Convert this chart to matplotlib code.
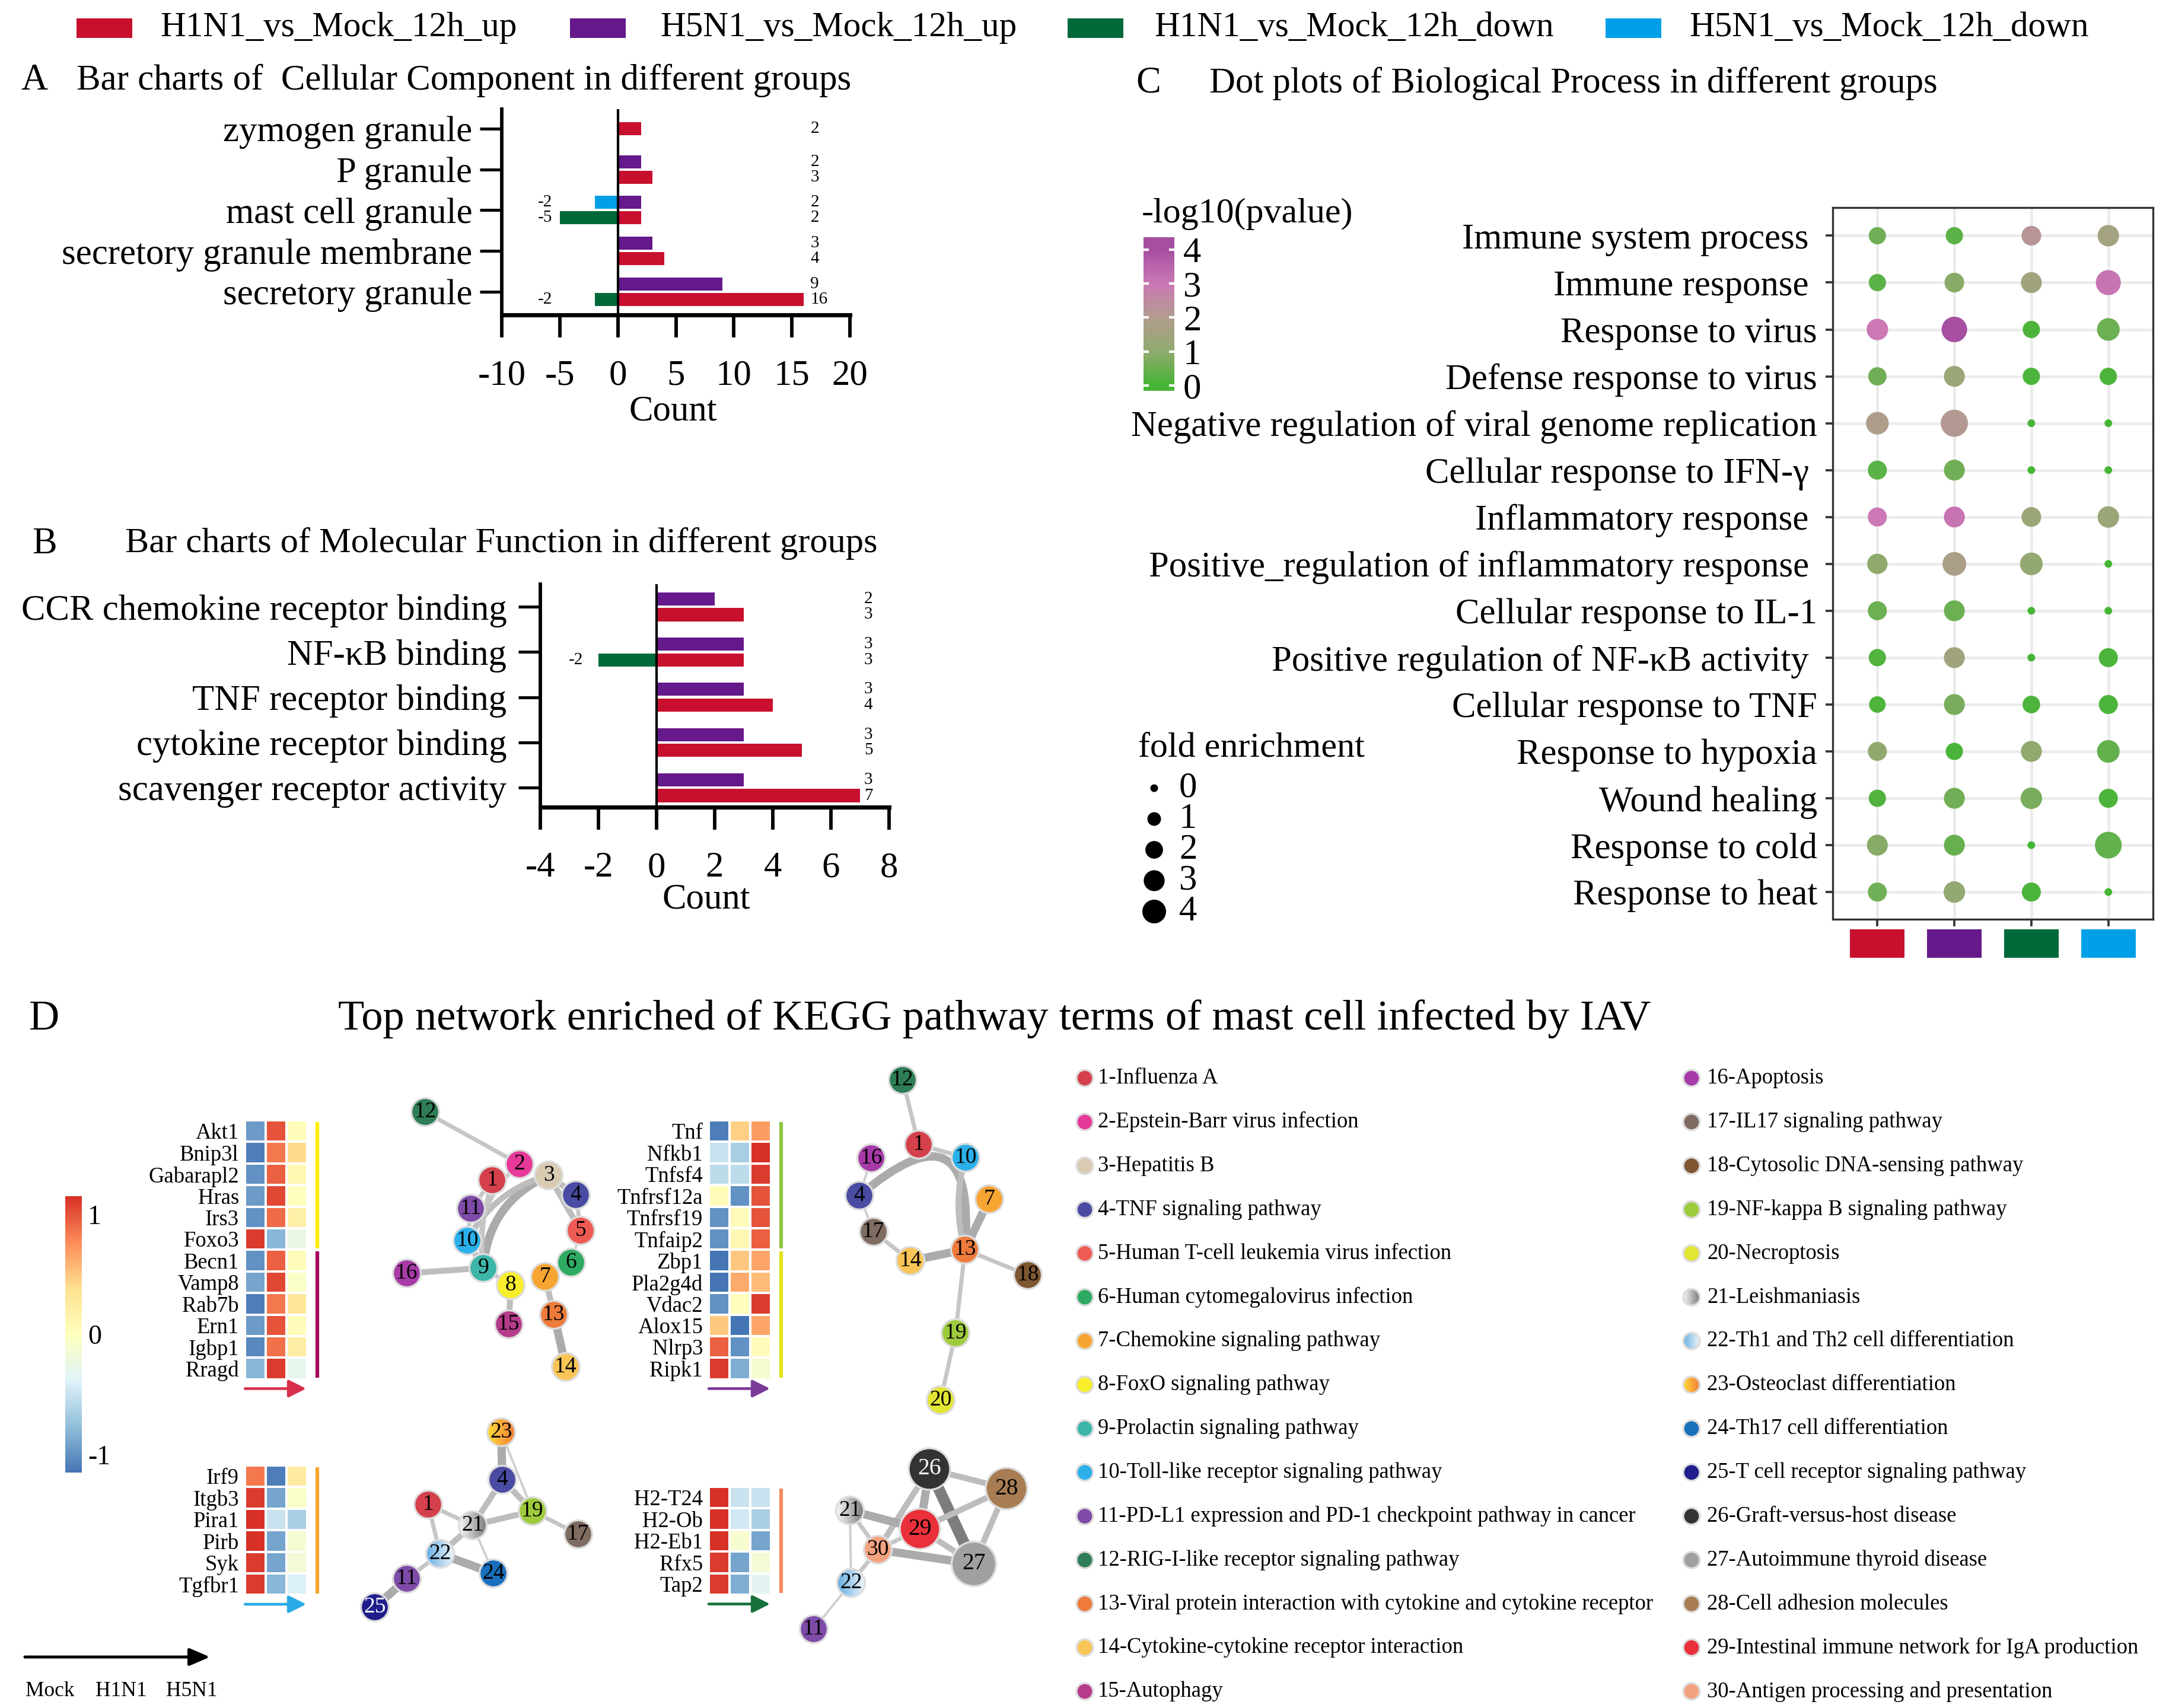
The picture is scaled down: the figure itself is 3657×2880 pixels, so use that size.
import numpy as np
import matplotlib
matplotlib.use("Agg")
import matplotlib.pyplot as plt
from matplotlib.colors import LinearSegmentedColormap, Normalize
from matplotlib.patches import Circle, Rectangle, FancyArrowPatch
from matplotlib.cm import ScalarMappable
from matplotlib.transforms import ScaledTranslation

plt.rcParams['font.family'] = ['Liberation Serif', 'DejaVu Serif']
plt.rcParams['axes.unicode_minus'] = False

# ------------------------------------------------------------------ data
groups = ['H1N1_vs_Mock_12h_up', 'H5N1_vs_Mock_12h_up',
          'H1N1_vs_Mock_12h_down', 'H5N1_vs_Mock_12h_down']
group_colors = ['#C8102E', '#65198A', '#00693A', '#00A0E9']

# A: cellular component
cc_terms = ['zymogen granule', 'P granule', 'mast cell granule',
            'secretory granule membrane', 'secretory granule']
cc_h1n1_up = [2, 3, 2, 4, 16]
cc_h5n1_up = [0, 2, 2, 3, 9]
cc_h1n1_down = [0, 0, -5, 0, -2]
cc_h5n1_down = [0, 0, -2, 0, 0]
cc_ticks = [-10, -5, 0, 5, 10, 15, 20]

# B: molecular function
mf_terms = ['CCR chemokine receptor binding', 'NF-κB binding', 'TNF receptor binding',
            'cytokine receptor binding', 'scavenger receptor activity']
mf_h1n1_up = [3, 3, 4, 5, 7]
mf_h5n1_up = [2, 3, 3, 3, 3]
mf_h1n1_down = [0, -2, 0, 0, 0]
mf_h5n1_down = [0, 0, 0, 0, 0]
mf_ticks = [-4, -2, 0, 2, 4, 6, 8]

# C: biological process dot plot (columns follow `groups`)
bp_terms = ['Immune system process ', 'Immune response ', 'Response to virus',
            'Defense response to virus', 'Negative regulation of viral genome replication',
            'Cellular response to IFN-γ ', 'Inflammatory response ',
            'Positive_regulation of inflammatory response ', 'Cellular response to IL-1',
            'Positive regulation of NF-κB activity ', 'Cellular response to TNF',
            'Response to hypoxia', 'Wound healing', 'Response to cold', 'Response to heat']
bp_fold = [[1.9, 1.9, 2.6, 3.2],
           [1.9, 2.6, 3.0, 4.5],
           [3.2, 4.7, 1.9, 3.6],
           [2.2, 3.0, 1.9, 1.9],
           [3.6, 5.4, 0.0, 0.0],
           [2.4, 3.0, 0.0, 0.0],
           [2.4, 3.0, 2.6, 3.2],
           [2.8, 4.0, 3.6, 0.0],
           [2.4, 3.0, 0.0, 0.0],
           [1.9, 3.0, 0.0, 2.4],
           [1.7, 3.0, 2.0, 2.4],
           [2.4, 1.9, 3.0, 3.6],
           [1.9, 3.0, 3.2, 2.4],
           [3.0, 3.0, 0.0, 5.2],
           [2.4, 3.2, 2.4, 0.0]]
bp_logp = [[0.6, 0.3, 2.2, 1.6],
           [0.3, 0.9, 1.5, 3.1],
           [3.0, 4.1, 0.1, 0.5],
           [0.6, 1.3, 0.1, 0.1],
           [1.9, 2.1, 0.0, 0.0],
           [0.3, 0.6, 0.0, 0.0],
           [3.0, 3.1, 1.3, 1.3],
           [1.0, 1.8, 1.1, 0.0],
           [0.5, 0.5, 0.0, 0.0],
           [0.15, 1.5, 0.0, 0.1],
           [0.1, 0.7, 0.1, 0.1],
           [1.0, 0.05, 1.0, 0.4],
           [0.15, 0.6, 0.7, 0.1],
           [0.9, 0.45, 0.0, 0.4],
           [0.55, 1.1, 0.1, 0.0]]
bp_cbar_ticks = [0, 1, 2, 3, 4]
fe_legend = [0, 1, 2, 3, 4]

# D: heatmaps (columns Mock, H1N1, H5N1; row-scaled expression)
hm_conditions = ['Mock', 'H1N1', 'H5N1']
hm1_genes = ['Akt1', 'Bnip3l', 'Gabarapl2', 'Hras', 'Irs3', 'Foxo3',
             'Becn1', 'Vamp8', 'Rab7b', 'Ern1', 'Igbp1', 'Rragd']
hm1_values = [[-0.95, 1.0, 0.05], [-1.1, 0.85, 0.4], [-1.0, 0.95, 0.1], [-0.95, 1.05, 0.0],
              [-1.0, 0.9, 0.2], [1.1, -0.8, -0.25], [-1.0, 0.95, 0.05], [-0.9, 1.05, -0.05],
              [-1.1, 0.85, 0.3], [-0.95, 1.0, 0.05], [-1.05, 0.88, 0.22], [-0.8, 1.1, -0.3]]
hm1_groups = [6, 6]
hm2_genes = ['Tnf', 'Nfkb1', 'Tnfsf4', 'Tnfrsf12a', 'Tnfrsf19', 'Tnfaip2',
             'Zbp1', 'Pla2g4d', 'Vdac2', 'Alox15', 'Nlrp3', 'Ripk1']
hm2_values = [[-1.1, 0.45, 0.7], [-0.5, -0.65, 1.15], [-0.55, -0.55, 1.1], [0.05, -1.0, 1.0],
              [-1.0, 0.05, 1.0], [-1.0, 0.1, 0.95], [-1.15, 0.5, 0.65], [-1.15, 0.62, 0.55],
              [-1.0, 0.02, 1.1], [0.5, -1.15, 0.65], [0.95, -1.0, 0.05], [1.1, -0.85, -0.1]]
hm2_groups = [6, 6]
hm3_genes = ['Irf9', 'Itgb3', 'Pira1', 'Pirb', 'Syk', 'Tgfbr1']
hm3_values = [[0.85, -1.1, 0.25], [1.1, -0.9, -0.05], [1.15, -0.5, -0.65],
              [1.15, -0.9, -0.12], [1.1, -0.9, -0.15], [1.1, -0.8, -0.4]]
hm3_groups = [6]
hm4_genes = ['H2-T24', 'H2-Ob', 'H2-Eb1', 'Rfx5', 'Tap2']
hm4_values = [[1.15, -0.5, -0.5], [1.15, -0.45, -0.65], [1.15, -0.1, -0.9],
              [1.1, -0.9, -0.15], [1.1, -0.85, -0.35]]
hm4_groups = [5]
hm_cbar_ticks = [-1, 0, 1]

# D: KEGG pathways and networks
kegg_names = ['Influenza A', 'Epstein-Barr virus infection', 'Hepatitis B',
              'TNF signaling pathway', 'Human T-cell leukemia virus infection',
              'Human cytomegalovirus infection', 'Chemokine signaling pathway',
              'FoxO signaling pathway', 'Prolactin signaling pathway',
              'Toll-like receptor signaling pathway',
              'PD-L1 expression and PD-1 checkpoint pathway in cancer',
              'RIG-I-like receptor signaling pathway',
              'Viral protein interaction with cytokine and cytokine receptor',
              'Cytokine-cytokine receptor interaction', 'Autophagy', 'Apoptosis',
              'IL17 signaling pathway', 'Cytosolic DNA-sensing pathway',
              'NF-kappa B signaling pathway', 'Necroptosis', 'Leishmaniasis',
              'Th1 and Th2 cell differentiation', 'Osteoclast differentiation',
              'Th17 cell differentiation', 'T cell receptor signaling pathway',
              'Graft-versus-host disease', 'Autoimmune thyroid disease',
              'Cell adhesion molecules', 'Intestinal immune network for IgA production',
              'Antigen processing and presentation']
kegg_colors = ['#D4404C', '#E7399A', '#D8CBB2', '#4A4BA2', '#EE5B55', '#2EAA62',
               '#F7A532', '#F8EE2C', '#3BB6A9', '#2BB0EA', '#7E4BA8', '#2E7D56',
               '#EE7B3B', '#F9C556', '#B53B8B', '#A83AA8', '#7E6C61', '#7E5631',
               '#9ECB3D', '#E3E534', '#B0B0B0', '#A9D0EC', '#F8B33A', '#1870BC',
               '#1F1E8A', '#333333', '#A0A0A0', '#A87D54', '#E9303B', '#F3A27F']
kegg_gradients = {21: ('#F7F7F7', '#7A7A7A'), 22: ('#6AAEE2', '#EEF6FC'),
                  23: ('#FFDA3A', '#F27C3A')}

net1_nodes = {12: (77, 35), 2: (236, 123), 3: (285, 142), 1: (190, 150), 4: (331, 175),
              11: (154, 198), 5: (339, 235), 10: (148, 252), 6: (323, 289), 9: (175, 298),
              16: (46, 307), 7: (279, 313), 8: (221, 327), 13: (294, 377), 15: (218, 393),
              14: (314, 465)}
net1_edges = [(12, 2, 2), (3, 9, 4), (3, 10, 3), (1, 11, 2), (2, 9, 2), (1, 9, 2),
              (3, 4, 3), (3, 5, 3), (4, 5, 2), (5, 6, 1), (6, 7, 1), (7, 13, 3),
              (13, 14, 4), (9, 16, 3), (9, 8, 2), (8, 15, 3), (10, 9, 3), (11, 10, 2)]
net2_nodes = {12: (122, 31), 1: (149, 140), 10: (228, 162), 16: (69, 163), 4: (49, 226),
              7: (268, 232), 17: (73, 287), 13: (227, 317), 14: (135, 336), 18: (333, 360),
              19: (211, 458), 20: (186, 571)}
net2_edges = [(12, 1, 2), (1, 10, 2), (4, 13, 4), (10, 13, 3), (16, 4, 1), (4, 17, 1),
              (17, 14, 2), (14, 13, 4), (7, 13, 4), (13, 18, 2), (13, 19, 2), (19, 20, 2)]
net3_nodes = {23: (245, 25), 4: (247, 105), 1: (122, 147), 21: (197, 182), 19: (298, 158),
              17: (375, 197), 22: (142, 230), 24: (232, 263), 11: (86, 272), 25: (32, 320)}
net3_edges = [(23, 4, 4), (23, 19, 1), (4, 19, 3), (4, 21, 3), (1, 21, 2), (1, 22, 2),
              (21, 19, 3), (19, 17, 2), (21, 22, 3), (22, 24, 4), (21, 24, 1), (22, 11, 2),
              (11, 25, 4)]
net4_nodes = {26: (227, 37), 28: (357, 70), 21: (93, 107), 29: (211, 138), 30: (140, 173),
              27: (302, 197), 22: (95, 229), 11: (32, 307)}
net4_edges = [(26, 28, 3), (26, 27, 5), (26, 29, 4), (26, 30, 3), (28, 29, 3), (28, 27, 3),
              (21, 29, 4), (21, 30, 2), (21, 22, 1), (29, 27, 3), (30, 27, 4), (30, 22, 2),
              (22, 11, 1), (29, 30, 2)]
net4_node_size = {26: 70, 28: 70, 29: 68, 27: 75}

# ------------------------------------------------------------------ figure
W, H, DPI = 3657, 2880, 300
PX = 72.0 / DPI          # points per pixel
fig = plt.figure(figsize=(W / DPI, H / DPI), dpi=DPI, facecolor='white')


def rect(x0, y0, x1, y1):
    return [x0 / W, 1 - y1 / H, (x1 - x0) / W, (y1 - y0) / H]


# ---------------------------------------------------------------- bars
def bar_panel(box, terms, h1u, h5u, h1d, h5d, xticks, ylim, bh, off, right_x, left_x, ypad):
    ax = fig.add_axes(rect(*box))
    n = len(terms)
    base = np.arange(n)[::-1].astype(float)
    h1u, h5u, h1d, h5d = map(np.asarray, (h1u, h5u, h1d, h5d))
    has5 = (h5u != 0) | (h5d != 0)
    y1 = base - np.where(has5, off, 0.0)
    y5 = base + np.where(has5, off, 0.0)
    for vals, ys, col in ((h1u, y1, group_colors[0]), (h5u, y5, group_colors[1]),
                          (h1d, y1, group_colors[2]), (h5d, y5, group_colors[3])):
        m = vals != 0
        ax.barh(ys[m], vals[m], height=bh, color=col, zorder=2)
        for v, y in zip(vals[m], ys[m]):
            if v > 0:
                ax.text(right_x, y, str(v), fontsize=7, ha='left', va='center')
            else:
                ax.text(left_x, y, str(v), fontsize=7, ha='right', va='center')
    ax.axvline(0, color='black', lw=1.0, zorder=3)
    ax.set_xlim(xticks[0], xticks[-1])
    ax.set_ylim(*ylim)
    ax.set_xticks(xticks)
    ax.set_yticks(base)
    ax.set_yticklabels(terms)
    ax.spines[['top', 'right']].set_visible(False)
    ax.spines['left'].set_linewidth(1.4)
    ax.spines['bottom'].set_linewidth(1.7)
    ax.tick_params(axis='x', length=9, width=1.4, pad=9, labelsize=14.6)
    ax.tick_params(axis='y', length=9, width=1.2, pad=ypad, labelsize=14.6)
    ax.patch.set_alpha(0)
    return ax


bar_panel((846, 184, 1433, 531), cc_terms, cc_h1n1_up, cc_h5n1_up, cc_h1n1_down, cc_h5n1_down,
          cc_ticks, (-0.57, 4.48), 0.32, 0.19, 16.6, -5.66, 2.9)
bar_panel((911, 985, 1499, 1361), mf_terms, mf_h1n1_up, mf_h5n1_up, mf_h1n1_down, mf_h5n1_down,
          mf_ticks, (-0.43, 4.5), 0.29, 0.175, 7.14, -2.53, 4.6)

# ---------------------------------------------------------------- dot plot
c_vmin, c_vmax = -0.16, 4.37
c_nodes = [(0, '#46B536'), (1, '#90AA6E'), (2, '#B29C8E'), (3, '#CB78B5'), (4, '#A64FA2')]
c_pos = [0.0] + [(v - c_vmin) / (c_vmax - c_vmin) for v, _ in c_nodes] + [1.0]
c_cols = [c_nodes[0][1]] + [c for _, c in c_nodes] + [c_nodes[-1][1]]
cmapC = LinearSegmentedColormap.from_list('bp', list(zip(c_pos, c_cols)))
normC = Normalize(c_vmin, c_vmax)


def fe_size(fe):
    d_px = np.sqrt(13.0 ** 2 + 358.0 * np.asarray(fe, float))
    return (d_px * PX) ** 2


axC = fig.add_axes(rect(3090, 350, 3630, 1550))
nrow, ncol = len(bp_terms), len(groups)
rows = np.arange(nrow)[::-1]
X, Y = np.meshgrid(np.arange(ncol), rows)
axC.scatter(X.ravel(), Y.ravel(), s=fe_size(np.array(bp_fold)).ravel(),
            c=np.array(bp_logp).ravel(), cmap=cmapC, norm=normC, linewidths=0, zorder=3)
axC.set_xlim(-0.58, ncol - 1 + 0.58)
axC.set_ylim(-0.58, nrow - 1 + 0.6)
axC.set_xticks(np.arange(ncol))
axC.set_xticklabels([])
axC.set_yticks(rows)
axC.set_yticklabels([t.rstrip() for t in bp_terms])
axC.grid(True, color='#EBEBEB', lw=1.1)
axC.set_axisbelow(True)
for sp in axC.spines.values():
    sp.set_color('#333333')
    sp.set_linewidth(0.8)
axC.tick_params(length=2.9, width=0.9, color='#333333', labelsize=14.6, pad=3.4)
shift = ScaledTranslation(-14 / DPI, 0, fig.dpi_scale_trans)
for lab, t in zip(axC.get_yticklabels(), bp_terms):
    if t.endswith(' '):
        lab.set_transform(lab.get_transform() + shift)
for i, col in enumerate(group_colors):
    axC.add_patch(Rectangle((i - 0.354, -0.0542), 0.708, 0.040, transform=axC.get_xaxis_transform(),
                            clip_on=False, facecolor=col, edgecolor='none'))

caxC = fig.add_axes(rect(1928, 399.5, 1980, 659))
cbC = fig.colorbar(ScalarMappable(norm=normC, cmap=cmapC), cax=caxC, ticks=bp_cbar_ticks)
cbC.outline.set_visible(False)
caxC.tick_params(direction='in', color='white', length=2.2, width=1.0, labelsize=14.6,
                 pad=3.6, left=True, right=True)

# ---------------------------------------------------------------- heatmaps
cmapD = LinearSegmentedColormap.from_list('ph', ['#4575B4', '#91BFDB', '#E0F3F8', '#FFFFBF',
                                                '#FEE090', '#FC8D59', '#D73027'])
normD = Normalize(-1.15, 1.15)
CELL_W, CELL_H = 35.0, 36.4


def heatmap(x0, y0, genes, vals, gsizes, gcols, arrow_col):
    n = len(genes)
    ax = fig.add_axes(rect(x0, y0, x0 + 3 * CELL_W, y0 + n * CELL_H))
    ax.pcolormesh(np.array(vals), cmap=cmapD, norm=normD, edgecolors='white', linewidth=0.9)
    ax.set_xlim(0, 3)
    ax.set_ylim(n, 0)
    ax.set_xticks([])
    ax.set_yticks(np.arange(n) + 0.5)
    ax.set_yticklabels(genes)
    ax.tick_params(length=0, pad=2.4, labelsize=8.8)
    for sp in ax.spines.values():
        sp.set_visible(False)
    start = 0
    for size, col in zip(gsizes, gcols):
        ax.plot([3.49, 3.49], [start + 0.07, start + size - 0.07], color=col, lw=1.5,
                clip_on=False, solid_capstyle='butt')
        start += size
    ax.add_patch(FancyArrowPatch((0.0, n + 0.43), (2.95, n + 0.43),
                                 arrowstyle='-|>,head_length=6,head_width=3', mutation_scale=1,
                                 lw=1.1, color=arrow_col, clip_on=False, shrinkA=0, shrinkB=0))
    return ax


heatmap(413, 1889, hm1_genes, hm1_values, hm1_groups, ['#FFEE00', '#A3005C'], '#D8304C')
heatmap(1195, 1889, hm2_genes, hm2_values, hm2_groups, ['#8DC63F', '#E2E21C'], '#7A3A98')
heatmap(413, 2471, hm3_genes, hm3_values, hm3_groups, ['#F7A531'], '#2AAAE6')
heatmap(1195, 2507, hm4_genes, hm4_values, hm4_groups, ['#F28A5E'], '#15703C')

caxD = fig.add_axes(rect(110, 2017, 138, 2483))
cbD = fig.colorbar(ScalarMappable(norm=normD, cmap=cmapD), cax=caxD, ticks=hm_cbar_ticks)
cbD.outline.set_visible(False)
caxD.tick_params(length=0, labelsize=11, pad=2.4)

# ---------------------------------------------------------------- networks
EDGE_PX = {1: 4, 2: 7, 3: 10, 4: 14, 5: 19}
EDGE_COL = {1: '#CFCFCF', 2: '#C6C6C6', 3: '#BDBDBD', 4: '#ABABAB', 5: '#7D7D7D'}
CURVES = {(3, 9): 0.3, (3, 10): 0.22, (2, 9): 0.3, (1, 9): 0.1, (4, 13): -1.2, (10, 13): 0.15}


def draw_node(ax, x, y, d, k, label=True, z=3):
    r = d / 2.0
    if k in kegg_gradients:
        c1, c2 = kegg_gradients[k]
        circ = Circle((x, y), r, facecolor='none', edgecolor='#DDDDDD', lw=0.8, zorder=z + 1,
                      clip_on=False)
        ax.add_patch(circ)
        cm = LinearSegmentedColormap.from_list('g%d' % k, [c1, c2])
        im = ax.imshow(np.linspace(0, 1, 100)[None, :], cmap=cm, extent=(x - r, x + r, y + r, y - r),
                       aspect='auto', zorder=z, interpolation='bilinear')
        im.set_clip_path(circ)
    else:
        ax.add_patch(Circle((x, y), r, facecolor=kegg_colors[k - 1], edgecolor='#DDDDDD', lw=0.8,
                            zorder=z, clip_on=False))
    if label:
        ax.text(x, y, str(k), ha='center', va='center', fontsize=9.5 if d > 55 else 9,
                color='white' if k in (25, 26) else 'black', zorder=z + 2)


def network(box, nodes, edges, sizes=None):
    sizes = sizes or {}
    x0, y0, x1, y1 = box
    ax = fig.add_axes(rect(*box))
    ax.axis('off')
    for a, b, w in edges:
        (xa, ya), (xb, yb) = nodes[a], nodes[b]
        lw = EDGE_PX[w] * PX
        rad = CURVES.get((a, b), 0)
        if rad:
            ax.add_patch(FancyArrowPatch((xa, ya), (xb, yb), arrowstyle='-',
                                         connectionstyle='arc3,rad=%g' % rad, lw=lw,
                                         color=EDGE_COL[w], shrinkA=0, shrinkB=0, zorder=1))
        else:
            ax.plot([xa, xb], [ya, yb], lw=lw, color=EDGE_COL[w], solid_capstyle='butt', zorder=1)
    for k, (x, y) in nodes.items():
        draw_node(ax, x, y, sizes.get(k, 47), k)
    ax.set_xlim(0, x1 - x0)
    ax.set_ylim(y1 - y0, 0)
    return ax


network((640, 1840, 1040, 2360), net1_nodes, net1_edges)
network((1400, 1790, 1780, 2410), net2_nodes, net2_edges)
network((600, 2390, 1020, 2790), net3_nodes, net3_edges)
network((1340, 2440, 1760, 2820), net4_nodes, net4_edges, net4_node_size)

# ---------------------------------------------------------------- overlay (text, legends)
ov = fig.add_axes([0, 0, 1, 1], zorder=10)
ov.patch.set_alpha(0)
ov.axis('off')
ov.set_autoscale_on(False)
ov.set_xlim(0, W)
ov.set_ylim(H, 0)


def T(x, y, s, size, ha='left', va='center', **kw):
    ov.text(x, y, s, fontsize=size, ha=ha, va=va, **kw)


# top legend
leg_patch_x = [129, 961, 1800, 2707]
leg_text_x = [270, 1113, 1946, 2848]
for px, tx, name, col in zip(leg_patch_x, leg_text_x, groups, group_colors):
    ov.add_patch(Rectangle((px, 31), 94, 33, facecolor=col, edgecolor='none'))
    T(tx, 47, name, 14.2)

# titles
T(58, 136, 'A', 15, ha='center')
T(129, 136, 'Bar charts of  Cellular Component in different groups', 14.6)
T(75, 918, 'B', 15, ha='center')
T(211, 916, 'Bar charts of Molecular Function in different groups', 14.5)
T(1936, 141, 'C', 15, ha='center')
T(2039, 141, 'Dot plots of Biological Process in different groups', 14.6)
T(75, 1718, 'D', 17, ha='center')
T(570, 1718, 'Top network enriched of KEGG pathway terms of mast cell infected by IAV', 17.4)
T(1135, 694, 'Count', 14.6, ha='center')
T(1191, 1517, 'Count', 14.6, ha='center')

# dot plot legends
T(1925, 361, '-log10(pvalue)', 14.4)
T(1919, 1262, 'fold enrichment', 14.4)
fe_y = np.linspace(1329, 1537, len(fe_legend))
ov.scatter(np.full(len(fe_legend), 1946), fe_y, s=fe_size(fe_legend), color='black', linewidths=0)
for v, y in zip(fe_legend, fe_y):
    T(1988, y, str(v), 14.6)

# bottom-left condition arrow
ov.add_patch(FancyArrowPatch((42, 2794), (354, 2794), arrowstyle='-|>,head_length=7,head_width=3',
                             mutation_scale=1, lw=1.2, color='black', shrinkA=0, shrinkB=0))
for x, s in zip([84, 204, 323], hm_conditions):
    T(x, 2852, s, 8.5, ha='center')

# KEGG legend
for i, (name, col) in enumerate(zip(kegg_names, kegg_colors)):
    c, r = divmod(i, 15)
    y = 1818 + r * 73.86
    draw_node(ov, [1829, 2852][c], y, 28, i + 1, label=False, z=3)
    T([1851, 2878][c], y, '%d-%s' % (i + 1, name), 8.8)
ov.set_xlim(0, W)
ov.set_ylim(H, 0)

fig.savefig('out.png', dpi=DPI, facecolor='white')
